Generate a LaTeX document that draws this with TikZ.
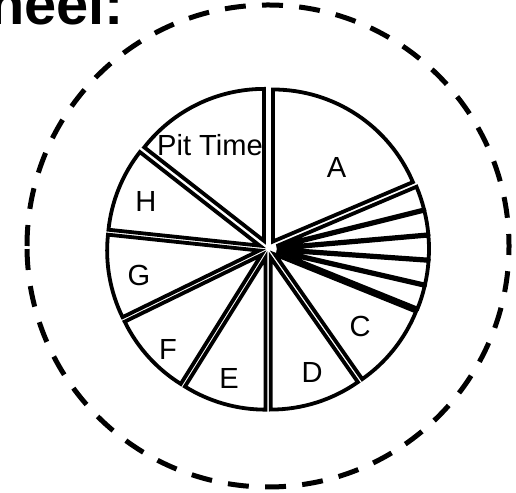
\documentclass[tikz,border=0pt]{standalone}
\usepackage{fontspec}
\setmainfont{Liberation Sans}
\usetikzlibrary{calc}

\begin{document}
\begin{tikzpicture}[
  x=1bp, y=1bp,
  slice/.style={draw, line width=3.8bp},
  rim/.style={draw, line width=5bp, dash pattern=on 21bp off 16.26bp},
  tag/.style={inner sep=0pt, font=\fontsize{29.2}{31}\selectfont},
  heading/.style={inner sep=0pt, anchor=base west,
                  font=\fontsize{58}{60}\selectfont\bfseries},
]
\useasboundingbox (0,0) rectangle (516,493);
\coordinate (O) at (268,244);
\coordinate (R) at (268,247);

\draw[rim] ($(R)+(-241,0)$) arc[start angle=180, end angle=-180, radius=241];

% slice edges, clockwise from the top
\foreach \from/\to in {90/23, 23/14, 14/5, 5/-4, -4/-13, -13/-22, -22/-55,
                       -55/-90, -90/-122, -122/-154, -154/-186, -186/-218, -218/-270}{
  \pgfmathsetmacro{\mid}{(\from+\to)/2}
  \draw[slice] ($(O)+(\mid:9)$) -- ++(\from:152)
    arc[start angle=\from, end angle=\to, radius=152] -- cycle;
}

\node[tag] (pit) at (210,348)     {Pit Time};
\node[tag] (a)   at (336.5,325.5) {A};
\node[tag] (c)   at (360,167)     {C};
\node[tag] (d)   at (312,121)     {D};
\node[tag] (e)   at (229,115)     {E};
\node[tag] (f)   at (168,144)     {F};
\node[tag] (g)   at (139,218)     {G};
\node[tag] (h)   at (146,292)     {H};

\node[heading] (title) at (-11,468) {heel:};
\end{tikzpicture}
\end{document}
